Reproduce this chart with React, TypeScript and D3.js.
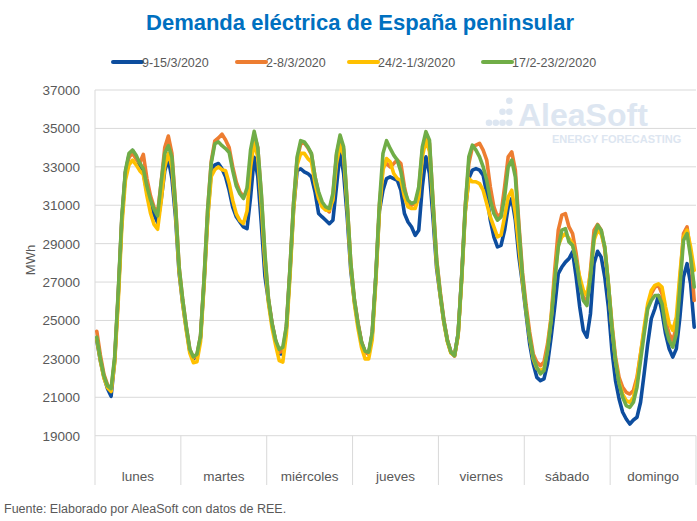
import React from "react";
import * as d3 from "d3";

// categories
const days = ["lunes", "martes", "miércoles", "jueves", "viernes", "sábado", "domingo"];
const yTicks = [19000, 21000, 23000, 25000, 27000, 29000, 31000, 33000, 35000, 37000];

// hourly demand (MWh), 24 values per day, lunes -> domingo
const week9to15Mar = [
  23960, 22900, 22050, 21450, 21050, 22900, 26300, 30200, 32700, 33600, 33850, 33500, 33100, 32700, 31700, 31000, 30500, 30100, 31300, 32800, 33400, 32400, 30400, 27500,
  25900, 24600, 23400, 23000, 23150, 24100, 27000, 30400, 32800, 33100, 33170, 32900, 32480, 31780, 30900, 30400, 30130, 29870, 29780, 31440, 33500, 32500, 30000, 27300,
  26000, 24800, 23900, 23260, 23260, 24600, 27500, 30800, 32800, 32900, 32740, 32650, 32480, 31700, 30570, 30390, 30220, 30040, 30220, 31960, 33780, 32650, 30400, 27600,
  26000, 24800, 23850, 23350, 23260, 24300, 27260, 30700, 31780, 32390, 32480, 32390, 32300, 31780, 30570, 30130, 29870, 29430, 29700, 31960, 33520, 32650, 30300, 27700,
  26300, 24950, 23950, 23350, 23170, 24300, 27260, 30700, 32400, 32830, 32910, 32830, 32570, 31610, 30220, 29350, 28830, 28910, 29700, 30910, 31350, 30220, 28300, 26900,
  25350, 23780, 22740, 22040, 21870, 21960, 22740, 24130, 25700, 27440, 27780, 28040, 28220, 28570, 27260, 25700, 24480, 24130, 25350, 27960, 28600, 28300, 27260, 25700,
  23430, 21870, 20910, 20220, 19870, 19610, 19820, 19960, 20740, 22220, 23780, 25090, 25610, 26300, 25430, 24300, 23520, 23090, 23520, 25170, 27260, 27960, 26910, 24650,
];

const week2to8Mar = [
  24440, 23200, 22200, 21650, 21350, 23000, 26400, 30300, 32700, 33500, 33700, 33400, 33200, 33650, 32400, 31500, 30900, 30600, 32200, 34000, 34600, 33700, 31100, 27800,
  26100, 24700, 23500, 23050, 23200, 24200, 27200, 30800, 33300, 34350, 34500, 34700, 34400, 34000, 33000, 32200, 31700, 31450, 31700, 33300, 34700, 34000, 31500, 28300,
  26100, 24850, 23950, 23350, 23400, 24700, 27700, 31100, 33400, 34200, 34250, 34000, 33650, 32500, 31600, 31000, 30800, 30650, 31500, 33600, 34500, 33900, 31100, 28000,
  26100, 24900, 23900, 23350, 23250, 24350, 27300, 31000, 33000, 33170, 33000, 33170, 33350, 33170, 31960, 31090, 31000, 31090, 31780, 33870, 34570, 34220, 31200, 28200,
  26500, 25050, 24000, 23350, 23150, 24250, 27300, 31000, 33170, 34040, 34130, 34220, 33870, 33350, 31960, 30910, 30390, 30560, 31960, 33520, 33780, 32830, 30000, 27500,
  25800, 24400, 23260, 22830, 22650, 22830, 23780, 25170, 27610, 29700, 30480, 30560, 29870, 29520, 28480, 27090, 26210, 25950, 27610, 29700, 30000, 29700, 28700, 26900,
  24830, 23090, 22040, 21520, 21260, 21170, 21350, 22040, 23260, 24480, 25700, 26390, 26740, 26830, 26390, 25000, 24300, 23960, 24650, 27090, 29520, 29870, 28480, 26040,
];

const week24FebTo1Mar = [
  24040, 22900, 22000, 21500, 21300, 22800, 26000, 29900, 32300, 33100, 33350, 33100, 32800, 32600, 31500, 30600, 30000, 29750, 31200, 33000, 33700, 33000, 30700, 27600,
  25900, 24500, 23300, 22800, 22850, 23900, 26900, 30300, 32500, 32850, 33000, 32850, 32800, 32150, 31250, 30550, 30200, 30050, 30700, 33000, 34300, 33500, 31000, 28000,
  25900, 24600, 23700, 22910, 22830, 24300, 27300, 30700, 33100, 33700, 33700, 33430, 33260, 32130, 31350, 30910, 30740, 30740, 31260, 33180, 34130, 33600, 30900, 27800,
  25900, 24600, 23600, 23000, 23000, 24000, 27000, 30700, 32830, 33430, 33260, 32650, 32390, 32300, 31430, 30910, 30830, 30830, 31430, 33520, 34390, 33800, 30900, 27900,
  26300, 24900, 23900, 23300, 23170, 24200, 27100, 30600, 32390, 32220, 32220, 32130, 31780, 31090, 30390, 29870, 29350, 29440, 30390, 31430, 31780, 30570, 28800, 27000,
  25500, 24100, 23000, 22500, 22400, 22500, 23500, 25100, 27200, 28900, 29350, 29520, 29260, 29000, 28130, 27260, 26570, 26300, 27430, 29180, 29700, 29500, 28830, 26910,
  24650, 22910, 21780, 21170, 20830, 20740, 21000, 21870, 23260, 24650, 25870, 26560, 26830, 26910, 26740, 25700, 24830, 24480, 25170, 27430, 29350, 29700, 28830, 27610,
];

const week17to23Feb = [
  24130, 23000, 22100, 21600, 21450, 23100, 26500, 30400, 32800, 33700, 33870, 33600, 33200, 32900, 32000, 31300, 30800, 30450, 32200, 33700, 34100, 33500, 31000, 27800,
  26100, 24700, 23500, 23100, 23250, 24200, 27200, 30800, 33200, 34200, 34300, 34100, 33950, 33750, 32800, 32000, 31600, 31350, 31900, 33900, 34850, 34000, 31600, 28500,
  26100, 24830, 23960, 23500, 23610, 24700, 27700, 31100, 33520, 34360, 34300, 34040, 33700, 32480, 31700, 31170, 30910, 30830, 31610, 33700, 34650, 34040, 31090, 28000,
  26100, 24830, 23870, 23400, 23350, 24400, 27300, 31090, 33700, 34360, 33960, 33610, 33350, 32740, 31780, 31260, 31090, 31170, 31960, 34040, 34830, 34390, 31090, 28130,
  26390, 25000, 23960, 23350, 23170, 24300, 27260, 30910, 33520, 34130, 33870, 33520, 33000, 32300, 31260, 30570, 30220, 30390, 31430, 33000, 33350, 32480, 29800, 27300,
  25520, 24130, 23090, 22570, 22220, 22390, 23440, 25000, 27090, 28830, 29700, 29780, 29090, 28910, 28130, 26910, 26040, 25780, 27260, 29350, 29960, 29700, 28830, 26910,
  24650, 22910, 21700, 21000, 20570, 20480, 20740, 21520, 22910, 24300, 25610, 26040, 26300, 26300, 25870, 24650, 23960, 23610, 24300, 26740, 29170, 29520, 28300, 26740,
];

const seriesNames = ["9-15/3/2020", "2-8/3/2020", "24/2-1/3/2020", "17/2-23/2/2020"];
const seriesColors = ["#0D4D9E", "#ED7D31", "#FFC000", "#70AD47"];
const seriesValues = [week9to15Mar, week2to8Mar, week24FebTo1Mar, week17to23Feb];

const FONT = "'Liberation Sans', Arial, sans-serif";
const TEXT = "#595959";
const GRID = "#d9d9d9";

export default function App() {
  const width = 697;
  const height = 521;
  const left = 95;
  const right = 696;
  const top = 90;
  const bottom = 435.7;

  const hours = days.length * 24;
  const x = d3.scaleLinear().domain([0, hours]).range([left, right]);
  const y = d3.scaleLinear().domain([19000, 37000]).range([bottom, top]);
  const line = d3
    .line<number>()
    .x((_, i) => x(i + 0.5))
    .y((d) => y(d));

  // legend layout
  const legendX = [113, 237, 349, 483];

  return (
    <svg
      width={width}
      height={height}
      style={{ position: "absolute", left: 0, top: 0, background: "#fff" }}
      fontFamily={FONT}
    >
      <rect width={width} height={height} fill="#fff" />

      {/* watermark */}
      <g fill="#dde6f1">
        {[
          [489, 122.7], [495.8, 122.7], [502.5, 122.7], [509.3, 122.7],
          [502.5, 111.7], [509.3, 111.7], [509.3, 100.7],
        ].map(([cx, cy], i) => (
          <circle key={i} cx={cx} cy={cy} r={3.3} />
        ))}
        <text x={518} y={126} fontSize={32} fontWeight="bold">
          AleaSoft
        </text>
        <text x={552} y={143} fontSize={11} fontWeight="bold">
          ENERGY FORECASTING
        </text>
      </g>

      {/* title */}
      <text x={360} y={30} textAnchor="middle" fontSize={22} fontWeight="bold" fill="#0070C0">
        Demanda eléctrica de España peninsular
      </text>

      {/* legend */}
      {seriesNames.map((name, i) => (
        <g key={name}>
          <line x1={legendX[i]} x2={legendX[i] + 29} y1={62} y2={62} stroke={seriesColors[i]} strokeWidth={4} strokeLinecap="round" />
          <text x={legendX[i] + 29} y={66.5} fontSize={12.5} fill={TEXT}>
            {name}
          </text>
        </g>
      ))}

      {/* gridlines + y axis */}
      {yTicks.map((t) => (
        <g key={t}>
          <line x1={left} x2={right} y1={y(t)} y2={y(t)} stroke={GRID} strokeWidth={1} />
          <text x={80} y={y(t) + 5} textAnchor="end" fontSize={13.5} fill={TEXT}>
            {t}
          </text>
        </g>
      ))}
      <line x1={left} x2={left} y1={top} y2={485} stroke={GRID} strokeWidth={1} />

      {/* category axis */}
      {days.map((d, i) => (
        <g key={d}>
          <line x1={x((i + 1) * 24)} x2={x((i + 1) * 24)} y1={bottom} y2={485} stroke={GRID} strokeWidth={1} />
          <text x={x(i * 24 + 12)} y={481} textAnchor="middle" fontSize={13.5} fill={TEXT}>
            {d}
          </text>
        </g>
      ))}

      <text transform={`translate(35,260) rotate(-90)`} textAnchor="middle" fontSize={13} fill={TEXT}>
        MWh
      </text>

      {/* series */}
      {seriesValues.map((vals, i) => (
        <path
          key={seriesNames[i]}
          d={line(vals) || ""}
          fill="none"
          stroke={seriesColors[i]}
          strokeWidth={3.6}
          strokeLinejoin="round"
          strokeLinecap="round"
        />
      ))}

      <text x={4} y={513} fontSize={12.5} fill={TEXT}>
        Fuente: Elaborado por AleaSoft con datos de REE.
      </text>
    </svg>
  );
}
